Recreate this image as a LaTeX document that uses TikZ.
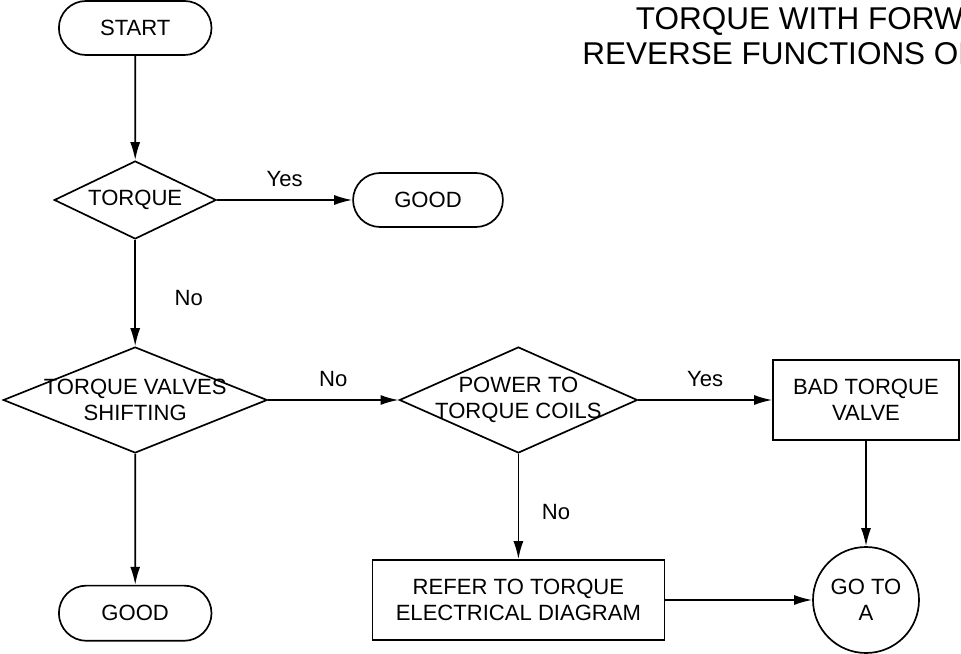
\documentclass[tikz,border=0pt]{standalone}
\usepackage{fontspec}
\setmainfont{Liberation Sans}
\usetikzlibrary{shapes.geometric,shapes.misc,arrows.meta}

\tikzset{
terminal/.style={draw,rounded rectangle,minimum width=4.05cm,minimum height=1.35cm},
decision/.style={draw,diamond,inner sep=0pt},
process/.style={draw,rectangle,align=center,minimum height=2cm},
gotoA/.style={draw,circle,align=center,inner sep=0pt,minimum size=2.65cm},
titletext/.style={anchor=west,font=\fontsize{22.4}{26}\selectfont},
}

\begin{document}
\begin{tikzpicture}[>={Latex[length=4.5mm,width=2.5mm]},line width=1.2pt,
font=\fontsize{15.7}{18.8}\selectfont]

\useasboundingbox (0,0) rectangle (24.025,-16.35);

% title, cut at the right edge
\node[titletext]
(T1)
at (15.76,-0.53)
{TORQUE WITH FORW};

\node[titletext]
(T2)
at (14.42,-1.34)
{REVERSE FUNCTIONS OF};

% left column
\node[terminal]
(start)
at (3.38,-0.7)
{START};

\node[decision,minimum width=4.05cm,minimum height=1.95cm,
label={center:TORQUE}]
(torque)
at (3.38,-5)
{};

\node[terminal,minimum width=3.98cm]
(good1)
at (10.7,-5)
{GOOD};

\node[decision,minimum width=6.6cm,minimum height=2.65cm,
label={[align=center]center:{TORQUE VALVES\\SHIFTING}}]
(valves)
at (3.38,-10)
{};

\node[terminal,minimum height=1.38cm]
(good2)
at (3.38,-15.33)
{GOOD};

% right part
\node[decision,minimum width=5.95cm,minimum height=2.65cm,
label={[align=center]center:{POWER TO\\TORQUE COILS}}]
(power)
at (12.96,-10)
{};

\node[process,minimum width=4.65cm]
(bad)
at (21.65,-10)
{BAD TORQUE\\VALVE};

\node[process,minimum width=7.3cm]
(refer)
at (12.96,-15)
{REFER TO TORQUE\\ELECTRICAL DIAGRAM};

\node[gotoA]
(goto)
at (21.65,-15)
{GO TO\\A};

% connectors
\draw[->]
(start)--(torque);

\draw[->]
(torque)--(good1)
node[midway,above=2mm]{Yes};

\draw[->]
(torque)--(valves)
node[pos=0.55,right=8.5mm]{No};

\draw[->]
(valves)--(power)
node[midway,above=2mm]{No};

\draw[->]
(valves)--(good2);

\draw[->]
(power)--(bad)
node[midway,above=2mm]{Yes};

\draw[->]
(power)--(refer)
node[pos=0.55,right=4.5mm]{No};

\draw[->]
(bad)--(goto);

\draw[->]
(refer)--(goto);

\end{tikzpicture}
\end{document}
